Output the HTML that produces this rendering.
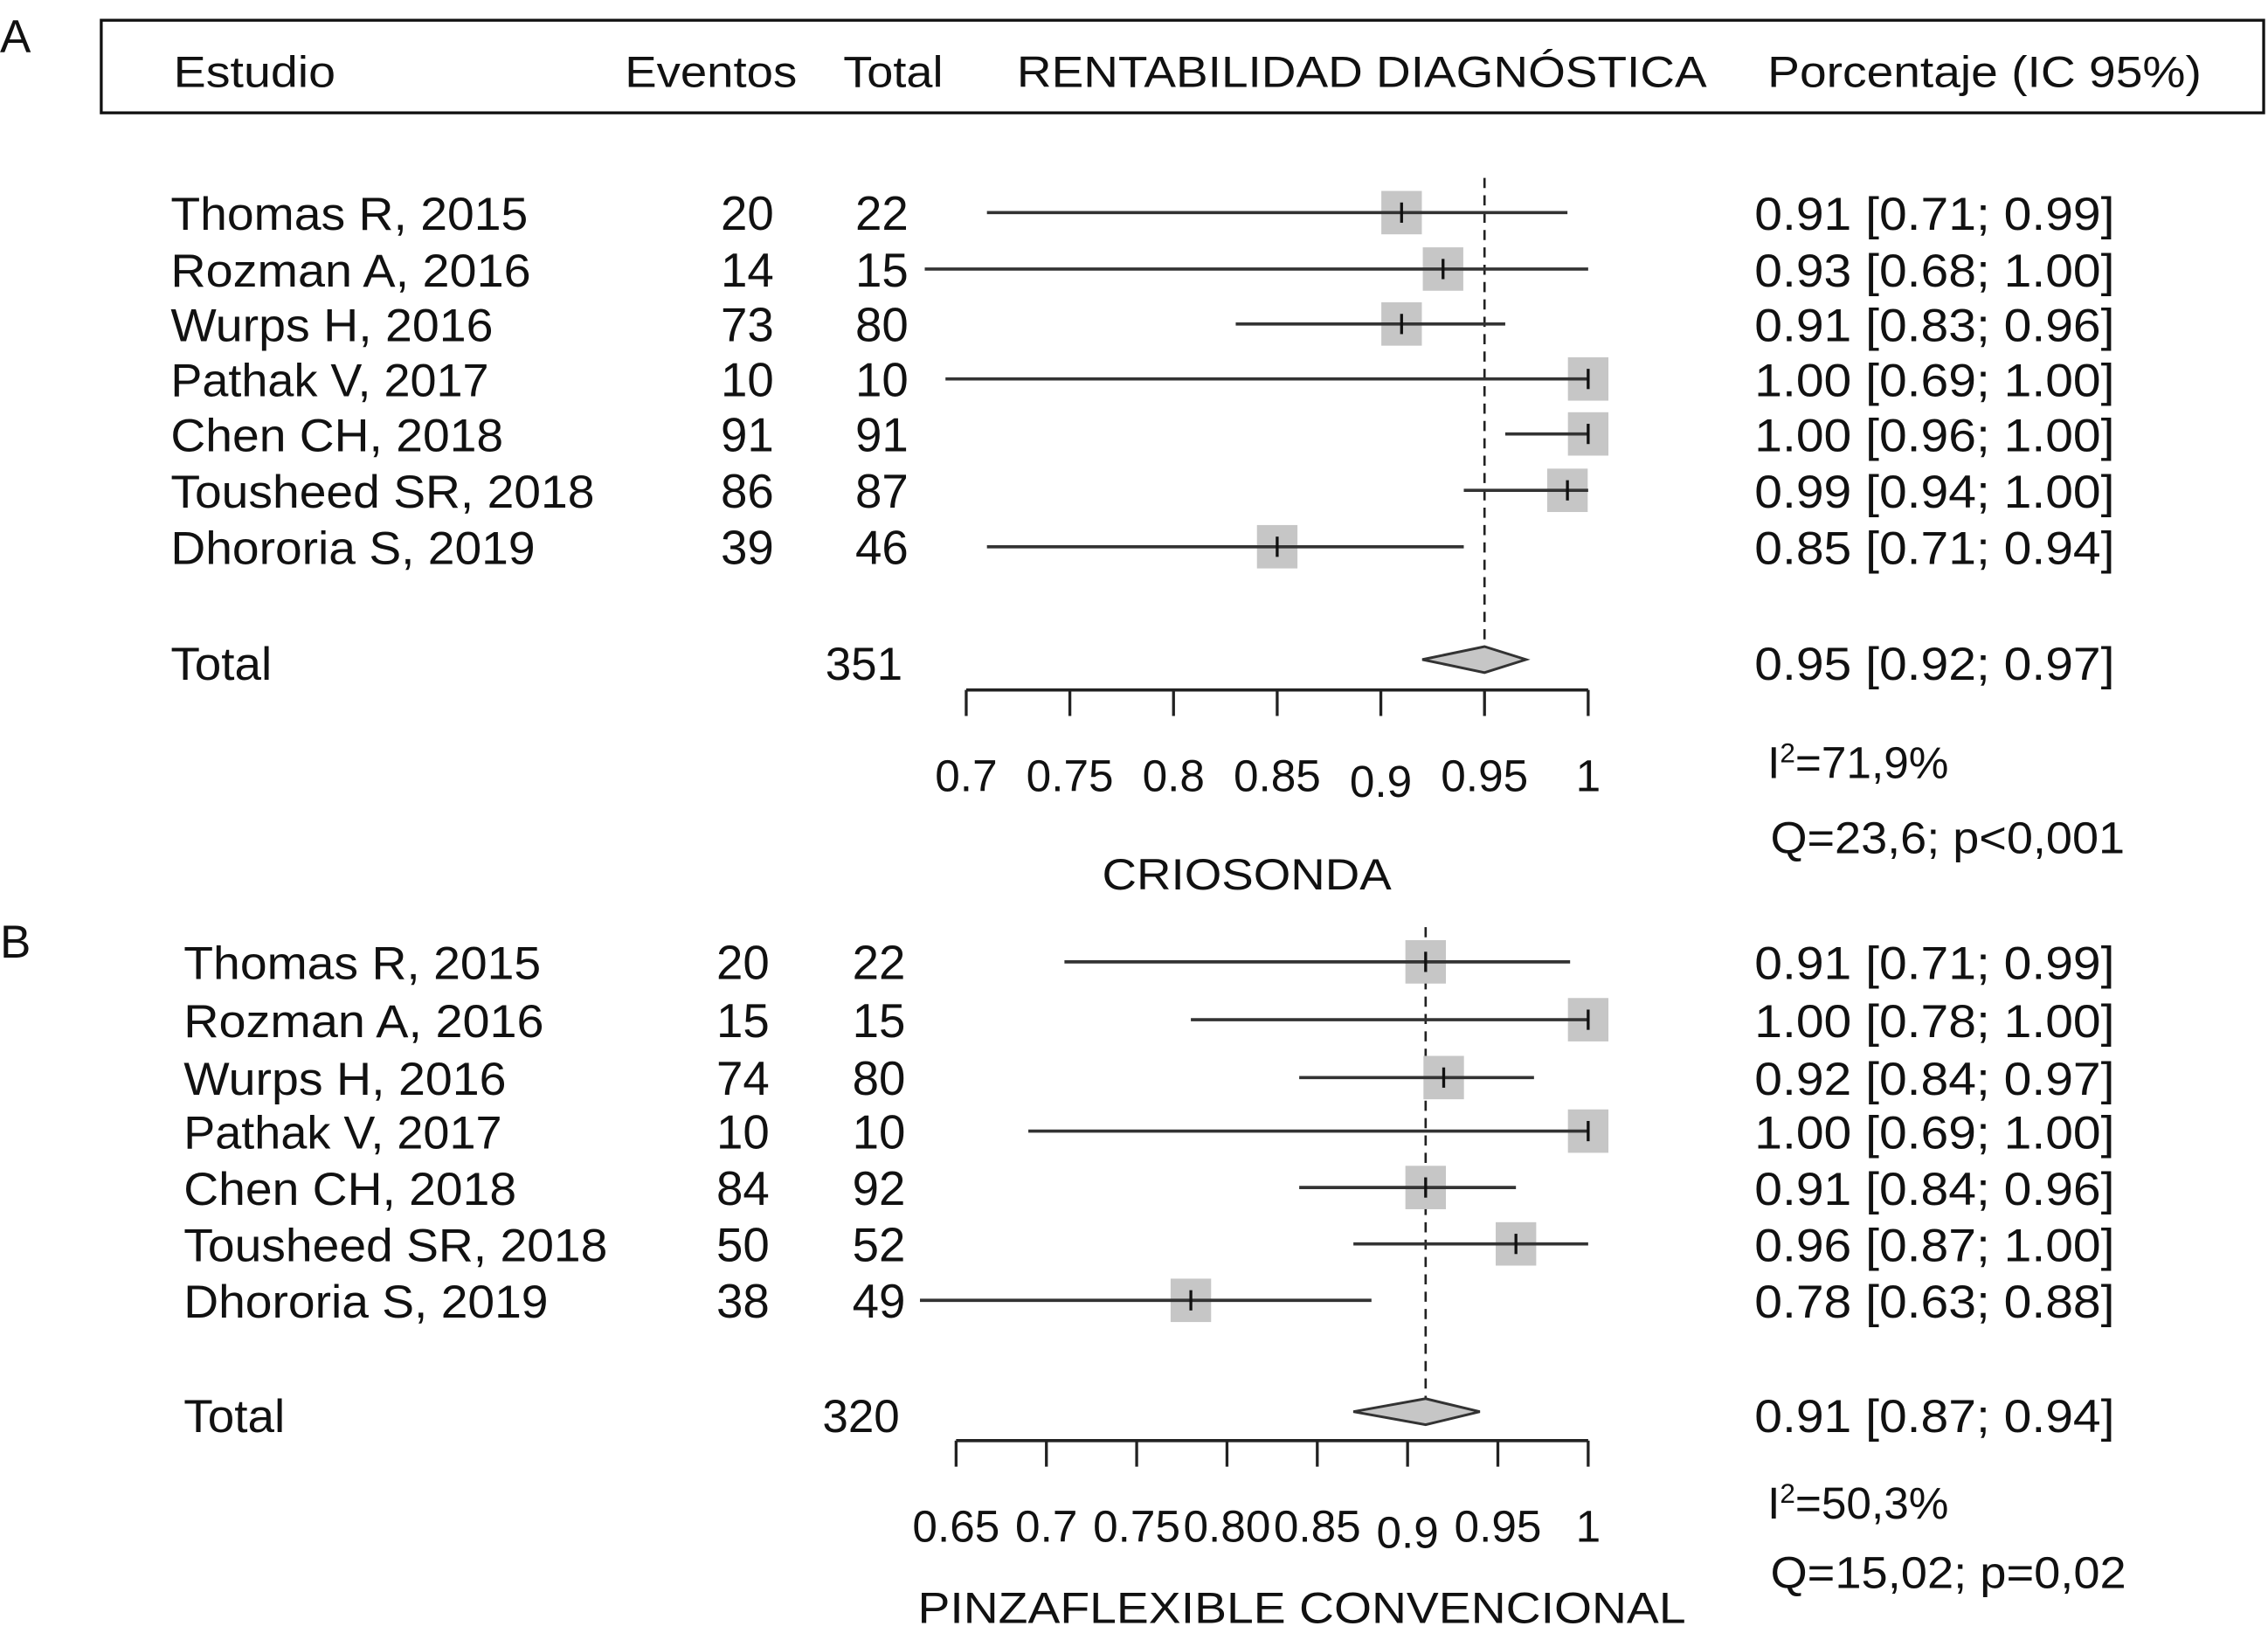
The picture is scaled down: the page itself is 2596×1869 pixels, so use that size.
<!DOCTYPE html>
<html><head><meta charset="utf-8"><style>
html,body{margin:0;padding:0;background:#fff;}
svg{display:block;}
text{font-family:"Liberation Sans",Arial,sans-serif;fill:#111;}
</style></head><body>
<svg id="chart" width="2596" height="1869" viewBox="0 0 1568 1129" preserveAspectRatio="none" xmlns="http://www.w3.org/2000/svg">
<text x="0" y="36" font-size="32">A</text>
<rect x="70" y="14" width="1495" height="64" fill="none" stroke="#111" stroke-width="2"/>
<text x="120" y="60" font-size="30" textLength="112" lengthAdjust="spacingAndGlyphs">Estudio</text>
<text x="432" y="60" font-size="30" textLength="119" lengthAdjust="spacingAndGlyphs">Eventos</text>
<text x="583" y="60" font-size="30" textLength="69" lengthAdjust="spacingAndGlyphs">Total</text>
<text x="703" y="60" font-size="30" textLength="477" lengthAdjust="spacingAndGlyphs">RENTABILIDAD DIAGNÓSTICA</text>
<text x="1222" y="60" font-size="30" textLength="300" lengthAdjust="spacingAndGlyphs">Porcentaje (IC 95%)</text>
<text x="0" y="662" font-size="32">B</text>
<g id="plots"></g>
</svg>
<script>
const studies = ["Thomas R, 2015","Rozman A, 2016","Wurps H, 2016","Pathak V, 2017","Chen CH, 2018","Tousheed SR, 2018","Dhororia S, 2019"];
const eventsA = [20,14,73,10,91,86,39];
const totalsA = [22,15,80,10,91,87,46];
const estA = [0.91,0.93,0.91,1.00,1.00,0.99,0.85];
const lowA = [0.71,0.68,0.83,0.69,0.96,0.94,0.71];
const highA = [0.99,1.00,0.96,1.00,1.00,1.00,0.94];
const pooledA = [0.95,0.92,0.97];
const ticksA = [0.7,0.75,0.8,0.85,0.9,0.95,1];
const tickLabelsA = ["0.7","0.75","0.8","0.85","0.9","0.95","1"];
const eventsB = [20,15,74,10,84,50,38];
const totalsB = [22,15,80,10,92,52,49];
const estB = [0.91,1.00,0.92,1.00,0.91,0.96,0.78];
const lowB = [0.71,0.78,0.84,0.69,0.84,0.87,0.63];
const highB = [0.99,1.00,0.97,1.00,0.96,1.00,0.88];
const pooledB = [0.91,0.87,0.94];
const ticksB = [0.65,0.7,0.75,0.8,0.85,0.9,0.95,1];
const tickLabelsB = ["0.65","0.7","0.75","0.80","0.85","0.9","0.95","1"];

const nameWidths = [247,249,223,220,230,293,252];
const NS="http://www.w3.org/2000/svg";
const root=document.getElementById('plots');
function mk(tag,attrs,parent){const e=document.createElementNS(NS,tag);for(const k in attrs)e.setAttribute(k,attrs[k]);(parent||root).appendChild(e);return e;}
function txt(x,y,s,anchor,parent,size,len){const a={x:x,y:y,'font-size':size||32,'text-anchor':anchor||'start'};if(len){a.textLength=len;a.lengthAdjust='spacingAndGlyphs';}const t=mk('text',a,parent);t.textContent=s;return t;}
function f2(v){return v.toFixed(2);}

function panel(cfg){
  const g=mk('g',{});
  
  
  const sx=v=>cfg.x0+(v-cfg.d0)/(1-cfg.d0)*(cfg.x1-cfg.x0);
  const dl=mk('line',{x1:sx(cfg.pooled[0]),x2:sx(cfg.pooled[0]),y1:cfg.rowY[0]-24,y2:cfg.totalY,stroke:'#222','stroke-width':1.6,'stroke-dasharray':'7,5'},g);
  
  
  studies.forEach((s,i)=>{
    const y=cfg.rowY[i];
    const t1=txt(cfg.nameX,y+12,s,'start',g,32,nameWidths[i]);
    
    
    const t2=txt(cfg.evX,y+12,String(cfg.events[i]),'end',g,33);
    
    
    const t3=txt(cfg.totX,y+12,String(cfg.totals[i]),'end',g,33);
    
    
    const t4=txt(1213,y+12,f2(cfg.est[i])+'   ['+f2(cfg.low[i])+'; '+f2(cfg.high[i])+']','start',g,32,249);
    t4.setAttribute('xml:space','preserve');
    
    
    const b=mk('rect',{x:sx(cfg.est[i])-14,y:y-15,width:28,height:30,fill:'#c6c6c6'},g);
    
    
    const l=mk('line',{x1:sx(cfg.low[i]),x2:sx(cfg.high[i]),y1:y,y2:y,stroke:'#333','stroke-width':2.2},g);
    
    
    const m=mk('line',{x1:sx(cfg.est[i]),x2:sx(cfg.est[i]),y1:y-7,y2:y+7,stroke:'#111','stroke-width':2},g);
    
    
  });
  const ty=cfg.totalY;
  const tt=txt(cfg.nameX,ty+14,'Total','start',g,32,70);
  
  
  const tn=txt(cfg.totX-4,ty+14,String(cfg.totals.reduce((a,b)=>a+b,0)),'end',g,32);
  
  
  const tp=txt(1213,ty+14,f2(cfg.pooled[0])+'   ['+f2(cfg.pooled[1])+'; '+f2(cfg.pooled[2])+']','start',g,32,249);
  tp.setAttribute('xml:space','preserve');
  
  
  const d=mk('polygon',{points:[sx(cfg.pooled[1])+','+ty, sx(cfg.pooled[0])+','+(ty-9), sx(cfg.pooled[2])+','+ty, sx(cfg.pooled[0])+','+(ty+9)].join(' '),fill:'#c6c6c6',stroke:'#333','stroke-width':1.8},g);
  
  
  const ay=cfg.axisY;
  const ax=mk('line',{x1:sx(cfg.ticks[0]),x2:sx(1),y1:ay,y2:ay,stroke:'#222','stroke-width':2.2},g);
  
  
  cfg.ticks.forEach((v,i)=>{
    const tk=mk('line',{x1:sx(v),x2:sx(v),y1:ay,y2:ay+18,stroke:'#222','stroke-width':2},g);
    
    
    const lb=txt(sx(v),ay+cfg.labelDy+(cfg.tickLabels[i]==='0.9'?4:0),cfg.tickLabels[i],'middle',g,31);
    
    
  });
  const i2=txt(1222,cfg.i2Y,'I','start',g,31);
  const sup=mk('tspan',{'font-size':19,dy:-11},i2); sup.textContent='2';
  const rest=mk('tspan',{'font-size':31,dy:11},i2); rest.textContent=cfg.i2;
  
  
  const q=txt(1224,cfg.qY,cfg.q,'start',g,31,cfg.qLen);
  
  
  const at=txt(cfg.titleX,cfg.titleY,cfg.title,'middle',g,30,cfg.titleLen);
  
  
}
panel({name:'panel-a',x0:668,x1:1098,d0:0.7,rowY:[147,186,224,262,300,339,378],nameX:118,evX:535,totX:628,events:eventsA,totals:totalsA,est:estA,low:lowA,high:highA,pooled:pooledA,totalY:456,axisY:477,labelDy:70,ticks:ticksA,tickLabels:tickLabelsA,i2:'=71,9%',i2Y:538,q:'Q=23,6; p<0,001',qLen:245,qY:590,title:'CRIOSONDA',titleLen:200,titleX:862,titleY:615});
panel({name:'panel-b',x0:661,x1:1098,d0:0.65,rowY:[665,705,745,782,821,860,899],nameX:127,evX:532,totX:626,events:eventsB,totals:totalsB,est:estB,low:lowB,high:highB,pooled:pooledB,totalY:976,axisY:996,labelDy:70,ticks:ticksB,tickLabels:tickLabelsB,i2:'=50,3%',i2Y:1050,q:'Q=15,02; p=0,02',qLen:246,qY:1098,title:'PINZAFLEXIBLE CONVENCIONAL',titleLen:531,titleX:900,titleY:1122});
</script>
</body></html>
